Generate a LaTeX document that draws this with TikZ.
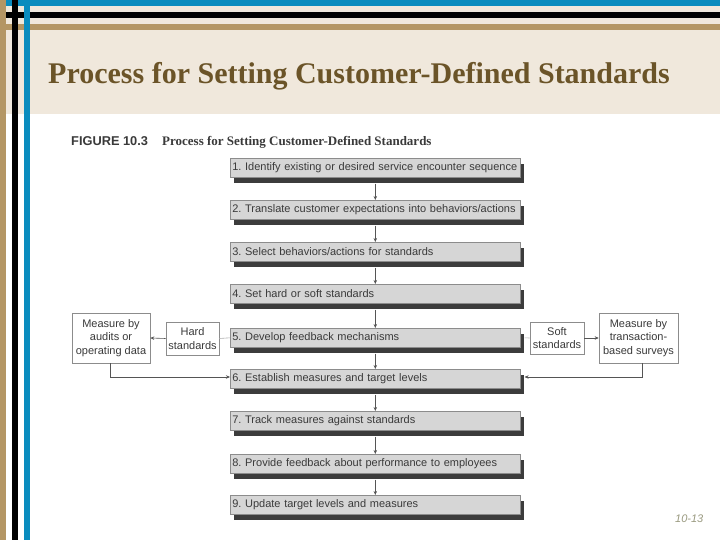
\documentclass[tikz,border=0pt]{standalone}
\usepackage{fontspec}
\setmainfont{Liberation Serif}
\setsansfont{Liberation Sans}
\usetikzlibrary{arrows.meta,shadows}
\definecolor{beige}{HTML}{F0E8DC}
\definecolor{tanline}{HTML}{B49664}
\definecolor{blueline}{HTML}{0A8CBE}
\definecolor{titlecol}{HTML}{6B5428}
\definecolor{boxfill}{HTML}{D6D6D6}
\definecolor{boxdraw}{HTML}{8C8C8C}
\definecolor{shadowgray}{HTML}{3C3C3C}
\definecolor{txt}{HTML}{3A3A3A}
\definecolor{linegray}{HTML}{555555}
\definecolor{pagecol}{HTML}{9A9A80}
\tikzset{
  stepbox/.style={draw=boxdraw, fill=boxfill, line width=0.6pt, anchor=north west,
    text width=286pt, inner xsep=2pt, inner ysep=0pt, minimum height=19pt, align=left,
    font=\sffamily\fontsize{11}{12}\selectfont\frenchspacing, text=txt,
    drop shadow={shadow xshift=4pt, shadow yshift=-6pt, fill=shadowgray, opacity=1}},
  sidebox/.style={draw=boxdraw, fill=white, line width=0.6pt, align=center,
    font=\sffamily\fontsize{11}{13.3}\selectfont, text=txt, inner sep=1pt},
  arr/.style={draw=linegray, line width=0.6pt, -{Stealth[length=4pt,width=3.5pt]}},
  plain/.style={draw=boxdraw!70, line width=0.6pt},
}
\begin{document}
\begin{tikzpicture}[x=1pt,y=-1pt]
\useasboundingbox (0,0) rectangle (720,540);
% background
\fill[beige] (0,0) rectangle (720,114);
\fill[white] (0,114) rectangle (720,540);
\fill[beige] (0,0) rectangle (30,114);
% horizontal lines
\fill[blueline] (0,0) rectangle (720,6);
\fill[black] (0,12) rectangle (720,18);
\fill[tanline] (0,24) rectangle (720,30);
% vertical lines
\fill[tanline] (0,0) rectangle (6,540);
\fill[black] (12,0) rectangle (18,540);
\fill[blueline] (24,0) rectangle (30,540);
% title
\node[anchor=base west, text=titlecol, font=\bfseries\fontsize{30}{34}\selectfont, inner sep=0pt, xscale=1.0] (title) at (48,84) {Process for Setting Customer-Defined Standards};
% caption
\node[anchor=base west, inner sep=0pt, text=txt, font=\sffamily\bfseries\fontsize{12.8}{14}\selectfont] (fig) at (71,146) {FIGURE 10.3};
\node[anchor=base west, inner sep=0pt, text=txt, font=\bfseries\fontsize{13}{14}\selectfont] (cap) at (162,146) {Process for Setting Customer-Defined Standards};
% steps
\node[stepbox] (s1) at (230,158) {1. Identify existing or desired service encounter sequence};
\node[stepbox] (s2) at (230,200) {2. Translate customer expectations into behaviors/actions};
\node[stepbox] (s3) at (230,242) {3. Select behaviors/actions for standards};
\node[stepbox] (s4) at (230,284) {4. Set hard or soft standards};
\node[stepbox] (s5) at (230,328) {5. Develop feedback mechanisms};
\node[stepbox] (s6) at (230,369) {6. Establish measures and target levels};
\node[stepbox] (s7) at (230,411) {7. Track measures against standards};
\node[stepbox] (s8) at (230,454) {8. Provide feedback about performance to employees};
\node[stepbox] (s9) at (230,495) {9. Update target levels and measures};
\foreach \a/\b in {s1/s2,s2/s3,s3/s4,s4/s5,s5/s6,s6/s7,s7/s8,s8/s9}
  \draw[arr] ([yshift=-6pt]\a.south) -- (\b.north);
% side boxes
\node[sidebox, minimum width=53pt, minimum height=33pt] (hard) at (192.5,338.5) {Hard\\standards};
\node[sidebox, minimum width=78pt, minimum height=50pt] (maud) at (111,338) {Measure by\\audits or\\operating data};
\node[sidebox, minimum width=54pt, minimum height=32pt] (soft) at (557,338) {Soft\\standards};
\node[sidebox, minimum width=79pt, minimum height=50pt] (mtrans) at (638.5,338) {Measure by\\transaction-\\based surveys};
\draw[plain] (s5.west) -- (hard.east);
\draw[arr] (hard.west) -- (maud.east);
\draw[plain] ([xshift=4pt]s5.east) -- (soft.west);
\draw[arr] (soft.east) -- (mtrans.west);
\coordinate (c6l) at (230,377);
\draw[arr] ([xshift=-1pt]maud.south) |- (s6.west |- c6l);
\draw[arr] ([xshift=3.5pt]mtrans.south) |- ([xshift=4pt]s6.east |- c6l);
% page number
\node[anchor=base west, inner sep=0pt, text=pagecol, font=\sffamily\itshape\fontsize{11}{12}\selectfont] (pg) at (675,522) {10-13};
\end{tikzpicture}
\end{document}
